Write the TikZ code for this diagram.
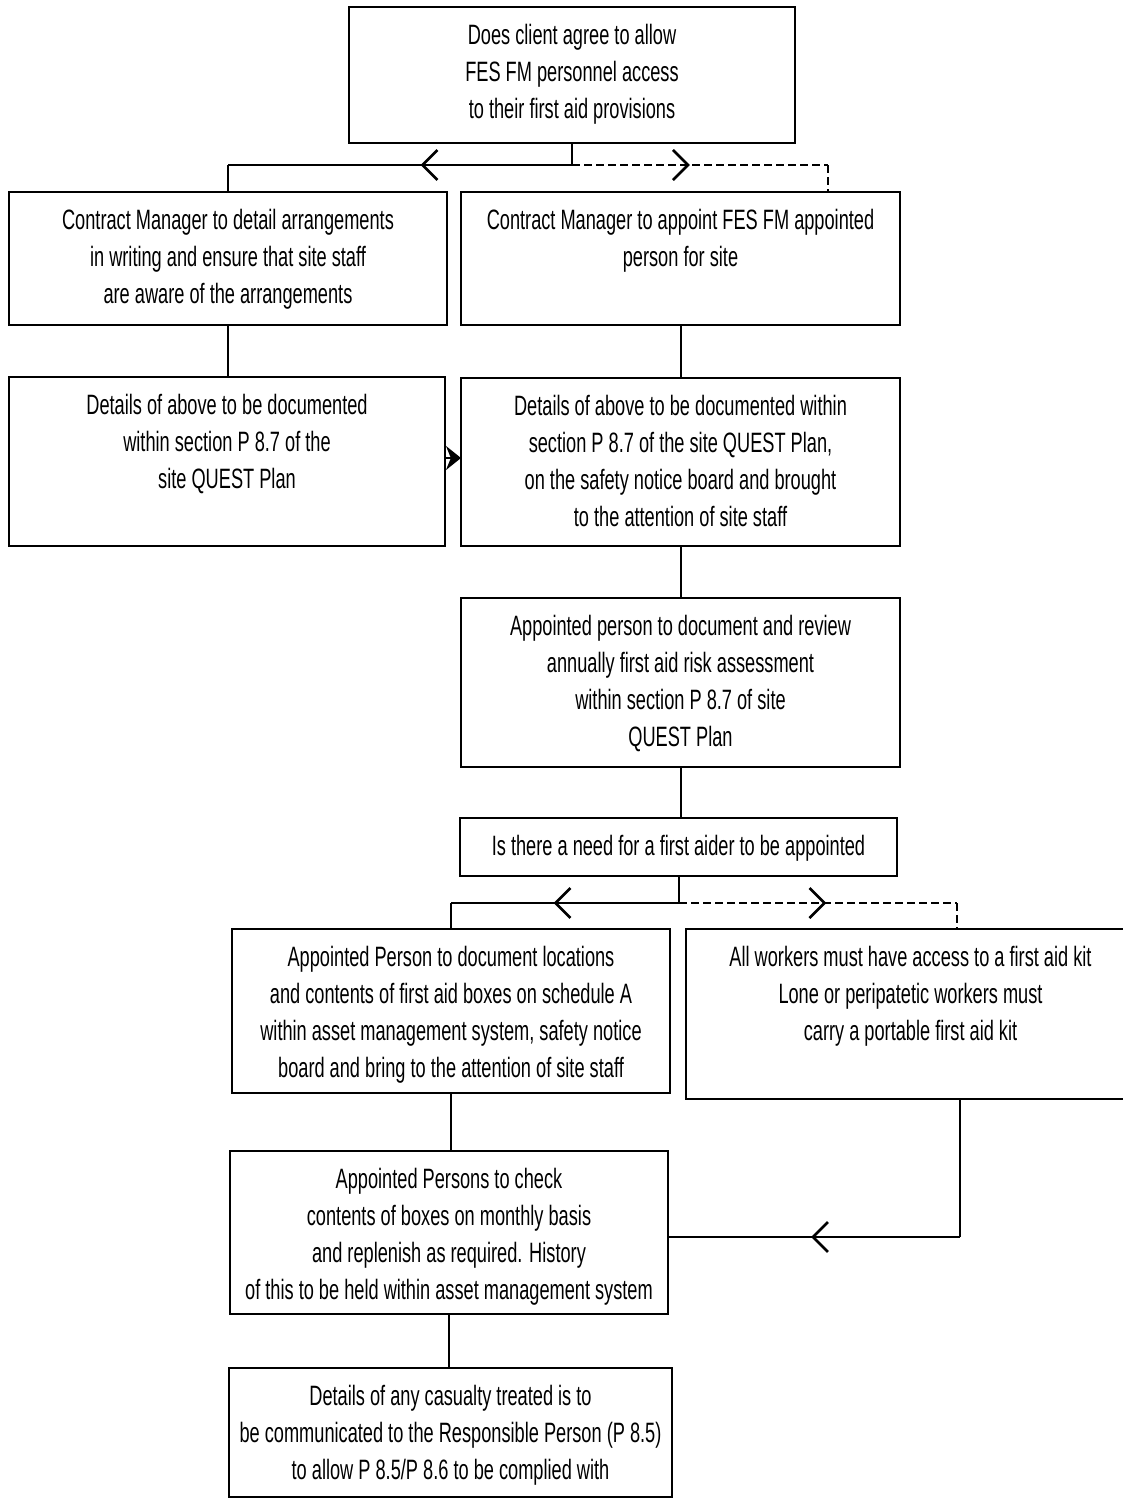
\documentclass[tikz,border=0pt]{standalone}
\usepackage{fontspec}
\setmainfont{Liberation Sans}[FakeStretch=0.65]
\usetikzlibrary{arrows.meta,decorations.markings}

% box text: width, height, top padding, lines
\newcommand{\boxtxt}[3]{\parbox[c][#2pt][t]{#1pt}{\centering\vspace*{17pt}#3\par}}

\tikzset{
  box/.style={draw, line width=2.8pt, inner sep=0pt, outer sep=0pt},
  link/.style={line width=2pt},
  dlink/.style={line width=2.2pt, dash pattern=on 8pt off 4pt},
  midarr/.style={postaction={decorate,decoration={markings,
      mark=at position #1 with {\arrow[solid]{Straight Barb[length=15pt,width=30pt,line width=2.6pt]}}}}},
}

\begin{document}
\begin{tikzpicture}[x=1pt,y=-1pt,font=\fontsize{28}{37}\selectfont]
\useasboundingbox[fill=white] (0,0) rectangle (1122,1499);

\node[box] (q1) at (572,75)
  {\boxtxt{446}{136}{Does client agree to allow\\FES FM personnel access\\to their first aid provisions}};
\node[box] (cm1) at (228,258.5)
  {\boxtxt{438}{133}{Contract Manager to detail arrangements\\in writing and ensure that site staff\\are aware of the arrangements}};
\node[box] (cm2) at (680.5,258.5)
  {\boxtxt{439}{133}{Contract Manager to appoint FES FM appointed\\person for site}};
\node[box] (doc1) at (227,461.5)
  {\boxtxt{436}{169}{Details of above to be documented\\within section P 8.7 of the\\site QUEST Plan}};
\node[box] (doc2) at (680.5,462)
  {\boxtxt{439}{168}{Details of above to be documented within\\section P 8.7 of the site QUEST Plan,\\on the safety notice board and brought\\to the attention of site staff}};
\node[box] (risk) at (680.5,682.5)
  {\boxtxt{439}{169}{Appointed person to document and review\\annually first aid risk assessment\\within section P 8.7 of site\\QUEST Plan}};
\node[box] (q2) at (678.5,847)
  {\boxtxt{437}{58}{Is there a need for a first aider to be appointed}};
\node[box] (loc) at (451,1011)
  {\boxtxt{438}{164}{Appointed Person to document locations\\and contents of first aid boxes on schedule A\\within asset management system, safety notice\\board and bring to the attention of site staff}};
\node[box] (kit) at (910.5,1014)
  {\boxtxt{449}{170}{All workers must have access to a first aid kit\\Lone or peripatetic workers must\\carry a portable first aid kit}};
\node[box] (chk) at (449,1232.5)
  {\boxtxt{438}{163}{Appointed Persons to check\\contents of boxes on monthly basis\\and replenish as required. History\\of this to be held within asset management system}};
\node[box] (cas) at (450.5,1432.5)
  {\boxtxt{443}{129}{Details of any casualty treated is to\\be communicated to the Responsible Person (P 8.5)\\to allow P 8.5/P 8.6 to be complied with}};

% first decision
\coordinate (j1) at (572,165);
\coordinate (r1) at (828,165);
\draw[link] (q1.south) -- (j1);
\draw[link, midarr=0.44] (j1) -- (j1 -| cm1);
\draw[link] (j1 -| cm1) -- (cm1.north);
\draw[dlink, midarr=0.46] (j1) -- (r1);
\draw[dlink] (r1) -- (r1 |- cm2.north);

% left and right columns
\draw[link] (cm1.south) -- (cm1.south |- doc1.north);
\draw[link] (cm2.south) -- (doc2.north);
\coordinate (a1) at (445,458);
\draw[link, -{Stealth[length=15pt,width=24pt]}] (a1) -- (a1 -| doc2.west);
\draw[link] (doc2.south) -- (risk.north);
\draw[link] (risk.south) -- (risk.south |- q2.north);

% second decision
\coordinate (j2) at (679,903);
\coordinate (r2) at (957,903);
\draw[link] (q2.south -| j2) -- (j2);
\draw[link, midarr=0.55] (j2) -- (j2 -| loc);
\draw[link] (j2 -| loc) -- (loc.north);
\draw[dlink, midarr=0.53] (j2) -- (r2);
\draw[dlink] (r2) -- (r2 |- kit.north);

% checks and reporting
\draw[link] (loc.south) -- (loc.south |- chk.north);
\coordinate (c3) at (960,1237);
\draw[link] (c3 |- kit.south) -- (c3);
\draw[link, midarr=0.51] (c3) -- (c3 -| chk.east);
\draw[link] (chk.south) -- (chk.south |- cas.north);
\end{tikzpicture}
\end{document}
